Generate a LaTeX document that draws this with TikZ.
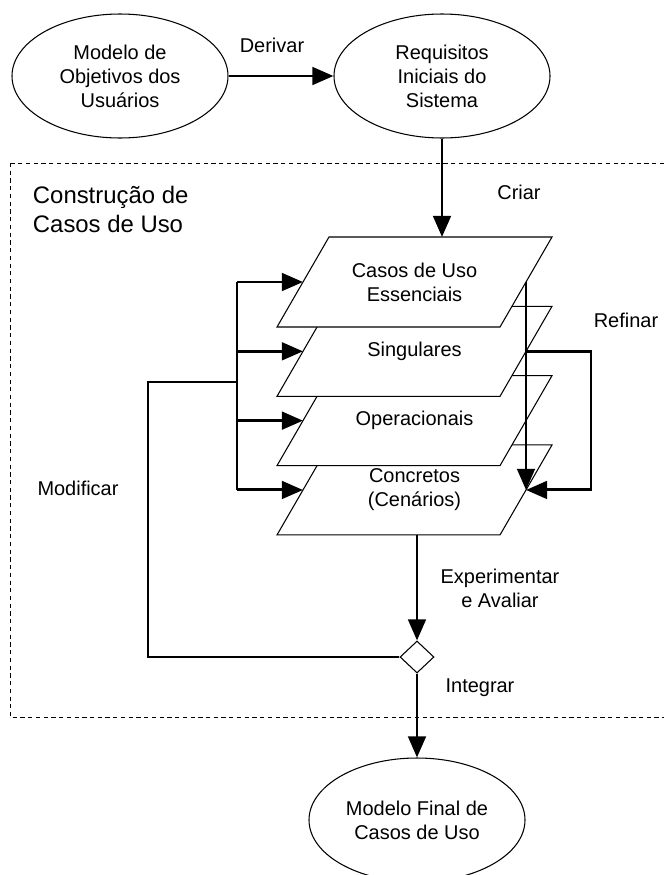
\documentclass[tikz,border=0pt]{standalone}
\usepackage{fontspec}
\setmainfont{Liberation Sans}
\usetikzlibrary{arrows.meta,shapes.geometric}

\begin{document}
\begin{tikzpicture}[
  model/.style={ellipse,draw,line width=0.75pt,fill=white,minimum width=5.4cm,minimum height=3.1cm,inner sep=0pt,align=center,font=\fontsize{14.2}{17.1}\selectfont},
  layer/.style={draw,line width=0.75pt,fill=white},
  note/.style={align=center,font=\fontsize{14.2}{17.1}\selectfont},
  wire/.style={line width=2.1pt},
  flow/.style={wire,-{Triangle[length=15pt,width=12.5pt]}}
]
\clip (0,0) rectangle (16.6,-21.875);
\draw[dash pattern=on 3pt off 2.5pt,line width=0.7pt] (0.25,-4.075) rectangle (17,-17.925);
\node[anchor=west,align=left,font=\fontsize{17}{20.6}\selectfont] (title) at (0.7,-5.225) {Construção de\\Casos de Uso};

\node[model] (goals) at (3.0,-1.9) {Modelo de\\Objetivos dos\\Usuários};
\node[model] (reqs) at (11.05,-1.9) {Requisitos\\Iniciais do\\Sistema};
\node[model] (final) at (10.425,-20.5) {Modelo Final de\\Casos de Uso};

\foreach \i/\txt in {4/{Concretos\\(Cenários)},3/Operacionais,2/Singulares,1/{Casos de Uso\\Essenciais}} {
  \pgfmathsetmacro\ytop{-5.925-1.733*(\i-1)}
  \filldraw[layer] (6.925,\ytop-2.25) -- (12.5,\ytop-2.25) -- (13.8,\ytop) -- (8.225,\ytop) -- cycle;
  \node[note] (case\i) at (10.3625,\ytop-1.125) {\txt};
  \coordinate (case\i-n) at (11.05,\ytop);
  \coordinate (case\i-s) at (10.425,\ytop-2.25);
  \coordinate (case\i-w) at (7.575,\ytop-1.125);
  \coordinate (case\i-e) at (13.15,\ytop-1.125);
  \coordinate (bar\i) at (5.925,\ytop-1.125);
}

\node[diamond,draw,fill=white,line width=0.75pt,minimum width=0.85cm,minimum height=0.8cm,inner sep=0pt] (merge) at (10.425,-16.425) {};

\draw[flow] (goals.east) -- (reqs.west);
\draw[flow] (reqs.south) -- (case1-n);
\draw[wire] (bar1) -- (bar4);
\foreach \i in {1,...,4}
  \draw[flow] (bar\i) -- (case\i-w);
\draw[flow] (case1-e) -- (case4-e);
\coordinate (loop) at (14.775,-8.783);
\draw[flow] (case2-e) -- (loop) |- (case4-e);
\draw[flow] (case4-s) -- (merge.north);
\draw[flow] (merge.south) -- (final.north);
\coordinate (bend) at (3.7,-9.55);
\coordinate (join) at (5.925,-9.55);
\draw[wire] (merge.west) -| (bend) -- (join);

\node[note] (derive) at (6.8,-1.125) {Derivar};
\node[note] (create) at (12.975,-4.8) {Criar};
\node[note] (refine) at (15.65,-8.0) {Refinar};
\node[note] (test) at (12.5,-14.7) {Experimentar\\e Avaliar};
\node[note] (integrate) at (12.0,-17.2) {Integrar};
\node[note] (modify) at (1.95,-12.2) {Modificar};
\end{tikzpicture}
\end{document}
